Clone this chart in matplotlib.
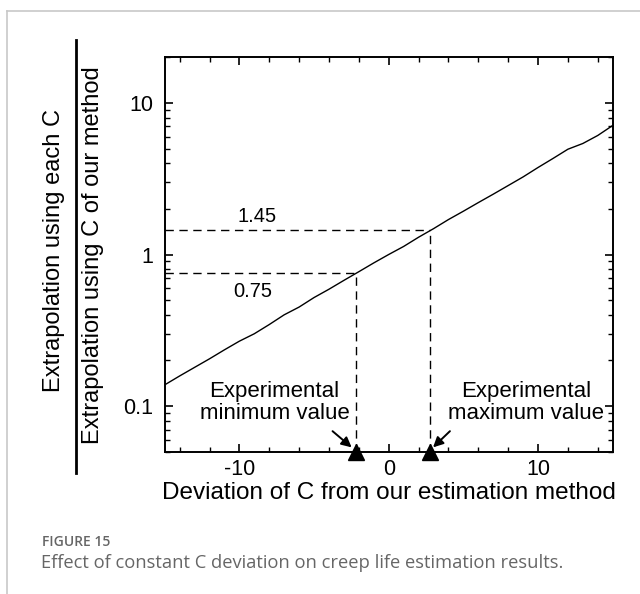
import matplotlib
matplotlib.use("Agg")
import matplotlib.pyplot as plt
from matplotlib.lines import Line2D
from matplotlib.ticker import LogLocator, MultipleLocator, FixedLocator, NullFormatter

# ---- data ----
deviation = [-15, -14, -13, -12, -11, -10, -9, -8, -7, -6, -5, -4, -3, -2, -1,
             0, 1, 2, 3, 4, 5, 6, 7, 8, 9, 10, 11, 12, 13, 14, 15]
ratio = [0.138, 0.158, 0.180, 0.205, 0.235, 0.268, 0.300, 0.345, 0.400, 0.450,
         0.520, 0.590, 0.675, 0.770, 0.880, 1.00, 1.13, 1.30, 1.48, 1.70, 1.93,
         2.20, 2.50, 2.85, 3.25, 3.75, 4.30, 4.95, 5.40, 6.10, 7.10]
exp_min_x, exp_min_y = -2.2, 0.75
exp_max_x, exp_max_y = 2.75, 1.45
x_ticks = [-10, 0, 10]
x_tick_labels = ["-10", "0", "10"]
y_ticks = [0.1, 1, 10]
y_tick_labels = ["0.1", "1", "10"]
xlim = (-15, 15)
ylim = (0.05, 20)

W, H = 640, 594
fig = plt.figure(figsize=(W / 100, H / 100), dpi=100)
plt.rcParams['font.family'] = ['Liberation Sans', 'DejaVu Sans']
plt.rcParams['axes.unicode_minus'] = False

ax_b, ax_t = 451.7, 57.3
ax = fig.add_axes([164.7 / W, 1 - ax_b / H, (612.7 - 164.7) / W, (ax_b - ax_t) / H])
ax.set_yscale('log')
ax.set_xlim(*xlim)
ax.set_ylim(*ylim)

ax.plot(deviation, ratio, color='black', lw=1.0)

dash = (0, (6, 4))
ax.plot([xlim[0], exp_max_x], [exp_max_y, exp_max_y], color='black', lw=1.0, linestyle=dash)
ax.plot([xlim[0], exp_min_x], [exp_min_y, exp_min_y], color='black', lw=1.0, linestyle=dash)
ax.plot([exp_min_x, exp_min_x], [ylim[0], exp_min_y], color='black', lw=1.0, linestyle=dash)
ax.plot([exp_max_x, exp_max_x], [ylim[0], exp_max_y], color='black', lw=1.0, linestyle=dash)

ax.plot([exp_min_x, exp_max_x], [ylim[0], ylim[0]], linestyle='none', marker='^',
        color='black', markersize=11.5, clip_on=False, zorder=5)

ax.text(-8.8, 1.79, "1.45", fontsize=14.5, ha='center', va='center')
ax.text(-9.1, 0.569, "0.75", fontsize=14.5, ha='center', va='center')

ax.text(-7.65, 0.106, "Experimental\nminimum value", fontsize=16, ha='center',
        va='center', linespacing=1.05)
ax.text(9.2, 0.106, "Experimental\nmaximum value", fontsize=16, ha='center',
        va='center', linespacing=1.05)
ax.annotate("", xy=(-2.48, 0.0534), xytext=(-3.76, 0.0683),
            arrowprops=dict(arrowstyle='-|>', color='black', lw=1.4, mutation_scale=15,
                            shrinkA=0, shrinkB=0))
ax.annotate("", xy=(2.97, 0.0534), xytext=(4.1, 0.0683),
            arrowprops=dict(arrowstyle='-|>', color='black', lw=1.4, mutation_scale=15,
                            shrinkA=0, shrinkB=0))

ax.xaxis.set_major_locator(FixedLocator(x_ticks))
ax.set_xticklabels(x_tick_labels)
ax.xaxis.set_minor_locator(MultipleLocator(2))
ax.yaxis.set_major_locator(FixedLocator(y_ticks))
ax.set_yticklabels(y_tick_labels)
ax.yaxis.set_minor_locator(LogLocator(base=10, subs=range(2, 10)))
ax.yaxis.set_minor_formatter(NullFormatter())
ax.tick_params(which='both', direction='in', top=True, right=True, colors='black',
               labelsize=15.5)
ax.tick_params(which='major', length=6, width=1.2)
ax.tick_params(axis='y', which='major', pad=8)
ax.tick_params(axis='x', which='major', pad=5)
ax.tick_params(which='minor', length=3.5, width=1.0)
for s in ax.spines.values():
    s.set_linewidth(1.4)

ax.set_xlabel("Deviation of C from our estimation method", fontsize=17.5)
ax.xaxis.set_label_coords(0.5, ((H - 493) - (H - ax_b)) / (ax_b - ax_t))
ax.xaxis.label.set_va('center')

# fraction-style y label
fig.text(54 / W, 1 - 250 / H, "Extrapolation using each C", rotation=90,
         fontsize=17, ha='center', va='center')
fig.text(93 / W, 1 - 255 / H, "Extrapolation using C of our method", rotation=90,
         fontsize=17, ha='center', va='center')
fig.add_artist(Line2D([75.5 / W, 75.5 / W], [1 - 40 / H, 1 - 473 / H], color='black',
                      lw=2.0, transform=fig.transFigure))

# frame and caption
grey = '#c8c8c8'
fig.add_artist(Line2D([7 / W, 7 / W], [0, 1 - 11 / H], color=grey, lw=1.2,
                      transform=fig.transFigure))
fig.add_artist(Line2D([7 / W, 1], [1 - 11 / H, 1 - 11 / H], color=grey, lw=1.2,
                      transform=fig.transFigure))
fig.text(42 / W, 1 - 542 / H, "FIGURE 15", fontsize=10, color='#666666',
         family=['Open Sans', 'DejaVu Sans'], weight='semibold', va='center')
fig.text(41 / W, 1 - 563 / H, "Effect of constant C deviation on creep life estimation results.",
         fontsize=13.2, color='#666666', family=['Open Sans', 'DejaVu Sans'], va='center')

fig.savefig("out.png", dpi=100)
